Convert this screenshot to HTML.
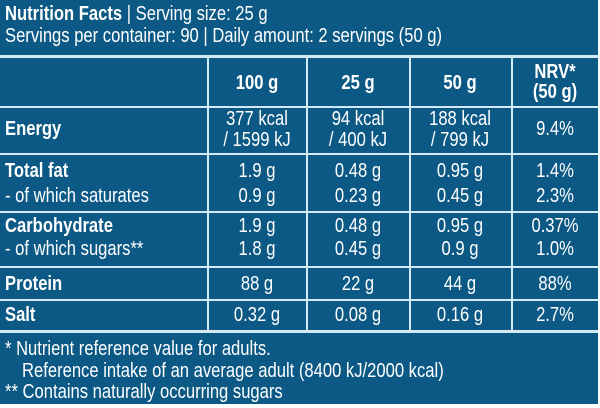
<!DOCTYPE html>
<html><head><meta charset="utf-8"><style>
body{margin:0;width:600px;height:408px;background:#fff;overflow:hidden}
#p{position:relative;width:600px;height:408px;background:#0d5985;font-family:"Liberation Sans",sans-serif;color:#fff;font-size:20px}
.h{position:absolute;background:#d3e9f5;left:0;width:600px}
.v{position:absolute;background:#d3e9f5;width:2px}
.t{position:absolute;white-space:nowrap;line-height:21px;transform:scaleX(.83);transform-origin:0 0}
.c{text-align:center;transform:translateX(-50%) scaleX(.83);transform-origin:50% 0}
b{font-weight:bold}
</style></head><body>
<div id="p">
<div class="t" style="left:5px;top:4px"><b>Nutrition Facts</b> | Serving size: 25 g</div>
<div class="t" style="left:5px;top:26px">Servings per container: 90 | Daily amount: 2 servings (50 g)</div>
<div class="h" style="top:55px;height:3px"></div>
<div class="h" style="top:106px;height:2px"></div>
<div class="h" style="top:153px;height:2px"></div>
<div class="h" style="top:211px;height:2px"></div>
<div class="h" style="top:266px;height:2px"></div>
<div class="h" style="top:299px;height:2px"></div>
<div class="h" style="top:330px;height:3px"></div>
<div class="h" style="top:404px;height:4px;background:#fff"></div>
<div style="position:absolute;left:598px;top:0;width:2px;height:408px;background:#fff"></div>
<div class="v" style="left:207px;top:58px;height:273px"></div>
<div class="v" style="left:306px;top:58px;height:273px"></div>
<div class="v" style="left:409px;top:58px;height:273px"></div>
<div class="v" style="left:511px;top:58px;height:273px"></div>
<div class="t c" style="left:257px;top:73px"><b>100 g</b></div>
<div class="t c" style="left:358px;top:73px"><b>25 g</b></div>
<div class="t c" style="left:460px;top:73px"><b>50 g</b></div>
<div class="t c" style="left:555px;top:62px;line-height:20px"><b>NRV*<br>(50 g)</b></div>

<div class="t" style="left:5px;top:119px"><b>Energy</b></div>
<div class="t c" style="left:257px;top:109px">377 kcal<br>/ 1599 kJ</div>
<div class="t c" style="left:358px;top:109px">94 kcal<br>/ 400 kJ</div>
<div class="t c" style="left:460px;top:109px">188 kcal<br>/ 799 kJ</div>
<div class="t c" style="left:555px;top:119px">9.4%</div>

<div class="t" style="left:5px;top:161px"><b>Total fat</b></div>
<div class="t c" style="left:257px;top:161px">1.9 g</div><div class="t c" style="left:358px;top:161px">0.48 g</div><div class="t c" style="left:460px;top:161px">0.95 g</div><div class="t c" style="left:555px;top:161px">1.4%</div>
<div class="t" style="left:5px;top:186px">- of which saturates</div>
<div class="t c" style="left:257px;top:186px">0.9 g</div><div class="t c" style="left:358px;top:186px">0.23 g</div><div class="t c" style="left:460px;top:186px">0.45 g</div><div class="t c" style="left:555px;top:186px">2.3%</div>

<div class="t" style="left:5px;top:216px"><b>Carbohydrate</b></div>
<div class="t c" style="left:257px;top:216px">1.9 g</div><div class="t c" style="left:358px;top:216px">0.48 g</div><div class="t c" style="left:460px;top:216px">0.95 g</div><div class="t c" style="left:555px;top:216px">0.37%</div>
<div class="t" style="left:5px;top:239px">- of which sugars**</div>
<div class="t c" style="left:257px;top:239px">1.8 g</div><div class="t c" style="left:358px;top:239px">0.45 g</div><div class="t c" style="left:460px;top:239px">0.9 g</div><div class="t c" style="left:555px;top:239px">1.0%</div>

<div class="t" style="left:5px;top:274px"><b>Protein</b></div>
<div class="t c" style="left:257px;top:274px">88 g</div><div class="t c" style="left:358px;top:274px">22 g</div><div class="t c" style="left:460px;top:274px">44 g</div><div class="t c" style="left:555px;top:274px">88%</div>

<div class="t" style="left:5px;top:305px"><b>Salt</b></div>
<div class="t c" style="left:257px;top:305px">0.32 g</div><div class="t c" style="left:358px;top:305px">0.08 g</div><div class="t c" style="left:460px;top:305px">0.16 g</div><div class="t c" style="left:555px;top:305px">2.7%</div>

<div class="t" style="left:5px;top:339px">* Nutrient reference value for adults.</div>
<div class="t" style="left:22px;top:361px">Reference intake of an average adult (8400 kJ/2000 kcal)</div>
<div class="t" style="left:5px;top:382px">** Contains naturally occurring sugars</div>
</div>
</body></html>
